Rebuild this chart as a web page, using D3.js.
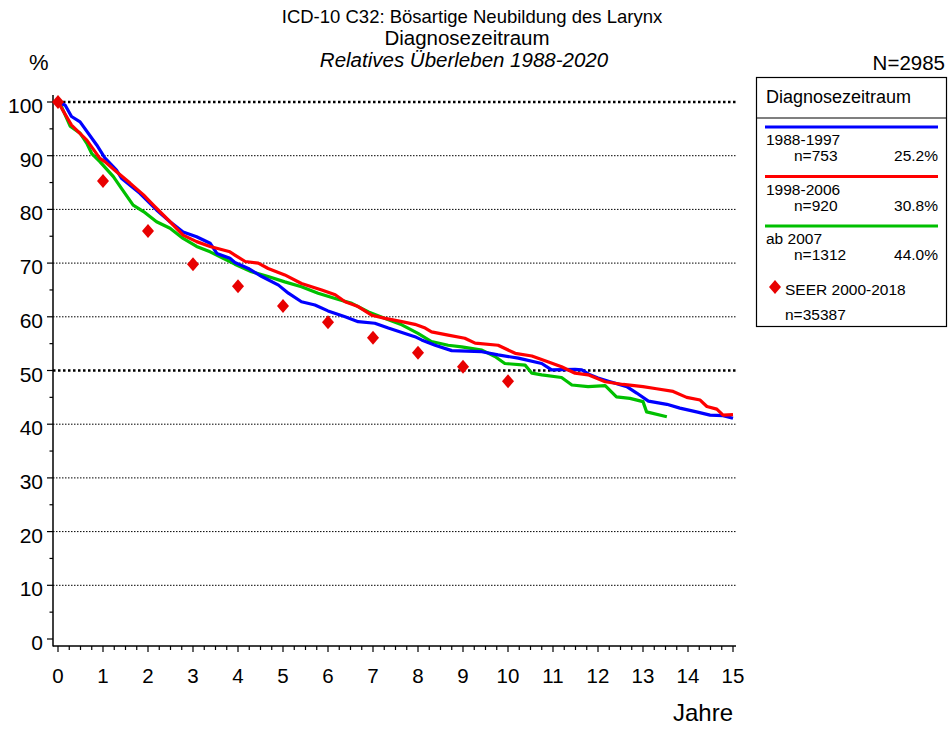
<!DOCTYPE html>
<html>
<head>
<meta charset="utf-8">
<script src="https://cdn.jsdelivr.net/npm/d3@7"></script>
<style>
  body { margin: 0; background: #fff; }
  svg { font-family: Arial, "Liberation Sans", sans-serif; }
</style>
</head>
<body>
<div id="chart"></div>
<script>
// survival curves: [year, percent]
var blue = [[0,100],[0.16,99.4],[0.3,97.3],[0.49,96.3],[0.86,92],[1.04,89.6],[1.3,87.3],[1.41,85.8],[1.82,83],
  [2.19,79.9],[2.49,77.7],[2.78,75.8],[3.08,74.9],[3.38,73.7],[3.53,71.8],[3.82,70.9],[3.93,70.1],[4.23,69.0],
  [4.53,67.5],[4.9,65.9],[5.12,64.4],[5.41,62.8],[5.71,62.2],[6.0,61.1],[6.38,60.0],[6.67,59.1],[7.04,58.8],
  [7.34,57.9],[7.71,56.9],[7.93,56.3],[8.08,55.7],[8.38,54.7],[8.75,53.7],[9.42,53.5],[9.78,52.9],[10.23,52.3],
  [10.75,51.3],[10.97,50.1],[11.49,50.2],[11.64,50.1],[11.82,49.2],[12.0,48.6],[12.27,47.9],[12.64,47.0],
  [12.86,45.8],[13.12,44.3],[13.53,43.7],[13.82,43.0],[14.19,42.3],[14.49,41.7],[14.78,41.6],[15,41.1]];

var red = [[0,100],[0.3,95.7],[0.64,92.9],[0.93,89.5],[1.04,88.9],[1.3,87.0],[1.6,84.9],[1.9,82.7],[2.12,80.8],
  [2.49,77.7],[2.78,75.2],[3.08,74.0],[3.38,73.1],[3.82,72.1],[3.93,71.5],[4.16,70.3],[4.45,70.0],[4.67,69.0],
  [5.04,67.8],[5.41,66.2],[5.86,65.0],[6.16,64.1],[6.38,62.8],[6.67,61.9],[6.97,60.3],[7.27,59.7],[7.64,59.1],
  [7.93,58.6],[8.16,57.9],[8.3,57.2],[8.67,56.6],[9.04,56.0],[9.27,55.1],[9.78,54.7],[10.16,53.2],[10.53,52.7],
  [10.9,51.6],[11.19,50.7],[11.49,49.5],[11.78,49.2],[12.16,47.9],[12.56,47.4],[13.0,47.0],[13.3,46.6],
  [13.67,46.1],[13.97,45.0],[14.27,44.5],[14.42,43.3],[14.64,42.8],[14.78,41.7],[15,41.8]];

var green = [[0,100],[0.08,99.1],[0.27,95.5],[0.49,94.2],[0.64,92.3],[0.75,90.4],[0.93,88.9],[1.23,86.1],
  [1.41,83.9],[1.67,80.8],[1.9,79.6],[2.19,77.7],[2.49,76.5],[2.78,74.6],[3.08,73.1],[3.38,72.1],[3.67,70.9],
  [3.93,69.8],[4.3,68.4],[4.67,67.5],[5.04,66.5],[5.41,65.6],[5.78,64.4],[6.16,63.4],[6.53,62.5],[6.9,60.9],
  [7.27,59.7],[7.64,58.5],[8.0,56.9],[8.3,55.4],[8.67,54.7],[8.97,54.4],[9.42,53.8],[9.71,52.6],[9.93,51.3],
  [10.38,51.0],[10.53,49.5],[10.75,49.2],[11.19,48.7],[11.42,47.3],[11.78,47.0],[12.16,47.2],[12.41,45.1],
  [12.71,44.8],[13.0,44.2],[13.08,42.3],[13.53,41.4]];

// SEER reference points
var seerYears = [0,1,2,3,4,5,6,7,8,9,10];
var seerValues = [100,85.3,76.0,69.8,65.7,62.0,59.0,56.1,53.3,50.7,48.0];

var xTicks = d3.range(0, 16);
var yTicks = d3.range(0, 101, 10);

var legendItems = [
  { label: "1988-1997", n: "n=753", pct: "25.2%", color: "#0000ff" },
  { label: "1998-2006", n: "n=920", pct: "30.8%", color: "#ff0000" },
  { label: "ab 2007", n: "n=1312", pct: "44.0%", color: "#00c000" }
];

var width = 949, height = 729;

var svg = d3.select("#chart").append("svg")
  .attr("width", width)
  .attr("height", height);

var x = d3.scaleLinear().domain([0, 15]).range([58, 733]);
var y = d3.scaleLinear().domain([0, 100]).range([639, 102]);

// titles
svg.append("text").attr("x", 472).attr("y", 23).attr("text-anchor", "middle")
  .style("font-size", "18.5px").text("ICD-10 C32: Bösartige Neubildung des Larynx");
svg.append("text").attr("x", 467).attr("y", 45).attr("text-anchor", "middle")
  .style("font-size", "20.5px").text("Diagnosezeitraum");
svg.append("text").attr("x", 464).attr("y", 67).attr("text-anchor", "middle")
  .style("font-size", "20.5px").style("font-style", "italic").text("Relatives Überleben 1988-2020");

svg.append("text").attr("x", 29).attr("y", 70).style("font-size", "22px").text("%");
svg.append("text").attr("x", 945).attr("y", 70).attr("text-anchor", "end")
  .style("font-size", "20.5px").text("N=2985");

// gridlines
svg.append("g").selectAll("line")
  .data(yTicks.filter(function (d) { return d > 0; }))
  .enter().append("line")
  .attr("x1", 53).attr("x2", 736)
  .attr("y1", function (d) { return y(d); })
  .attr("y2", function (d) { return y(d); })
  .attr("stroke", "#000")
  .attr("stroke-width", function (d) { return (d === 100 || d === 50) ? 2.5 : 1; })
  .attr("stroke-dasharray", function (d) { return (d === 100 || d === 50) ? "2.5,2.5" : "1.5,1.5"; });

// axes
var xAxisY = 646, yAxisX = 53;
svg.append("line").attr("x1", yAxisX).attr("x2", yAxisX).attr("y1", 95).attr("y2", xAxisY + 0.5)
  .attr("stroke", "#000").attr("stroke-width", 1.5);
svg.append("line").attr("x1", yAxisX).attr("x2", 736).attr("y1", xAxisY).attr("y2", xAxisY)
  .attr("stroke", "#000").attr("stroke-width", 1.5);

// x ticks: major each year, minor each quarter
svg.append("g").selectAll("line")
  .data(d3.range(0, 60.5, 1))
  .enter().append("line")
  .attr("x1", function (d) { return x(d / 4); })
  .attr("x2", function (d) { return x(d / 4); })
  .attr("y1", xAxisY)
  .attr("y2", function (d) { return d % 4 === 0 ? xAxisY + 6 : xAxisY + 4; })
  .attr("stroke", "#000").attr("stroke-width", 1.2);

svg.append("g").selectAll("text")
  .data(xTicks).enter().append("text")
  .attr("x", function (d) { return x(d); })
  .attr("y", 683)
  .attr("text-anchor", "middle")
  .style("font-size", "20.5px")
  .text(function (d) { return d; });

// y ticks: major each 10, minor each 5
svg.append("g").selectAll("line")
  .data(d3.range(0, 101, 5))
  .enter().append("line")
  .attr("x1", function (d) { return d % 10 === 0 ? yAxisX - 6 : yAxisX - 3.5; })
  .attr("x2", yAxisX)
  .attr("y1", function (d) { return y(d); })
  .attr("y2", function (d) { return y(d); })
  .attr("stroke", "#000").attr("stroke-width", 1.2);

svg.append("g").selectAll("text")
  .data(yTicks).enter().append("text")
  .attr("x", 43)
  .attr("y", function (d) { return y(d) + 11; })
  .attr("text-anchor", "end")
  .style("font-size", "21px")
  .text(function (d) { return d; });

svg.append("text").attr("x", 733).attr("y", 721).attr("text-anchor", "end")
  .style("font-size", "24px").text("Jahre");

// curves
var line = d3.line()
  .x(function (d) { return x(d[0]); })
  .y(function (d) { return y(d[1]); });

[[green, "#00c000"], [blue, "#0000ff"], [red, "#ff0000"]].forEach(function (s) {
  svg.append("path")
    .datum(s[0])
    .attr("d", line)
    .attr("fill", "none")
    .attr("stroke", s[1])
    .attr("stroke-width", 3.2)
    .attr("stroke-linejoin", "round");
});

// SEER diamonds
var diamond = "M0,-7L6,0L0,7L-6,0Z";
svg.append("g").selectAll("path")
  .data(seerYears).enter().append("path")
  .attr("d", diamond)
  .attr("transform", function (d, i) { return "translate(" + x(d) + "," + y(seerValues[i]) + ")"; })
  .attr("fill", "#e80000");

// legend
var lg = svg.append("g");
lg.append("rect").attr("x", 756.5).attr("y", 77.5).attr("width", 190).attr("height", 249)
  .attr("fill", "#fff").attr("stroke", "#000").attr("stroke-width", 1.2);
lg.append("line").attr("x1", 756.5).attr("x2", 946.5).attr("y1", 118).attr("y2", 118)
  .attr("stroke", "#000").attr("stroke-width", 1.2);
lg.append("text").attr("x", 766).attr("y", 103).style("font-size", "18px").text("Diagnosezeitraum");

legendItems.forEach(function (d, i) {
  var top = 127 + i * 49.5;
  lg.append("line").attr("x1", 765).attr("x2", 938).attr("y1", top).attr("y2", top)
    .attr("stroke", d.color).attr("stroke-width", 3.2);
  lg.append("text").attr("x", 766).attr("y", top + 18).style("font-size", "15.5px").text(d.label);
  lg.append("text").attr("x", 794).attr("y", top + 34).style("font-size", "15.5px").text(d.n);
  lg.append("text").attr("x", 938).attr("y", top + 34).attr("text-anchor", "end")
    .style("font-size", "15.5px").text(d.pct);
});

lg.append("path").attr("d", diamond).attr("transform", "translate(775,287)").attr("fill", "#e80000");
lg.append("text").attr("x", 785).attr("y", 295).style("font-size", "15.5px").text("SEER 2000-2018");
lg.append("text").attr("x", 785).attr("y", 320).style("font-size", "15.5px").text("n=35387");
</script>
</body>
</html>
